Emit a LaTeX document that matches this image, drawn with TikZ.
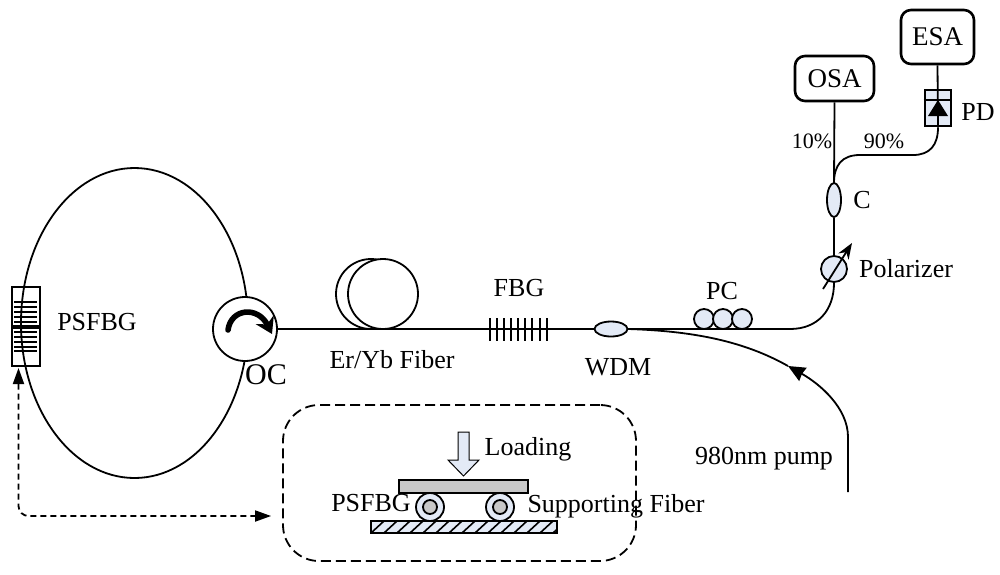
\documentclass[tikz,border=0pt]{standalone}
\usepackage{fontspec}
\setmainfont{Liberation Serif}
\definecolor{PaleBlue}{HTML}{E3EAF6}
\definecolor{PlateGray}{HTML}{C8C8C8}
\usetikzlibrary{positioning, arrows.meta, shapes.geometric, calc}
\tikzset{
  fiber/.style={line width=0.9pt},
  lbl/.style={font=\fontsize{13}{15}\selectfont, inner sep=0pt},
  smalllbl/.style={font=\fontsize{11}{13}\selectfont, inner sep=0pt},
  instr/.style={draw, line width=1.3pt, rounded corners=5pt, fill=white, font=\fontsize{13.5}{15}\selectfont},
  coupler/.style={draw, fiber, ellipse, fill=PaleBlue, inner sep=0pt},
  paddle/.style={draw, fiber, circle, fill=PaleBlue, inner sep=0pt, minimum size=10pt},
  coil/.style={draw, fiber, circle, fill=white, inner sep=0pt, minimum size=35pt},
  roller/.style={draw, fiber, circle, fill=PaleBlue, inner sep=0pt, minimum size=14pt},
  linktip/.style={{Stealth[length=8pt, width=5.5pt, inset=0pt]}-{Stealth[length=8pt, width=5.5pt, inset=0pt]}}
}
\begin{document}
\begin{tikzpicture}[x=0.5pt, y=-0.5pt, fiber]
  \useasboundingbox (0,0) rectangle (1000,574);
  % Ring
  \node[draw, fiber, ellipse, inner sep=0pt, minimum width=113.5pt, minimum height=155pt] (ring) at (134.5,323) {};
  \node[draw, fiber, circle, fill=white, inner sep=0pt, minimum size=32pt] (oc) at (245,329) {};
  \draw[line width=2.8pt, line cap=round, -{Stealth[length=8pt, width=10pt]}] (228,330) .. controls (231,308) and (258,306) .. (272,334);
  \node[lbl, font=\fontsize{15}{17}\selectfont] (oclabel) at (266,375) {OC};
  % Grating in the ring
  \node[draw, fiber, inner sep=0pt, minimum width=14pt, minimum height=39.5pt] (psfbg) at (26,326.5) {};
  \foreach \y in {302,307,312,317,322,332,337,342,347,351}
    \draw[line width=0.8pt] (14,\y) -- (37,\y);
  \draw[line width=2pt] (12,327) -- (39,327);
  \node[lbl] (psfbglabel) at (97,322) {PSFBG};
  % Gain fiber
  \node[coil] (coilback) at (371,294) {};
  \node[coil] (coilfront) at (383,294) {};
  \node[lbl] (gainlabel) at (392,360) {Er/Yb Fiber};
  % Main line
  \node[coupler, minimum width=16.5pt, minimum height=7.5pt] (wdm) at (611,329) {};
  \coordinate (bend) at (790,329);
  \draw (oc.east) -- (wdm.west);
  \draw (wdm.east) -- (bend);
  % FBG
  \foreach \x in {490,497,504,511,518,525,532,540,547}
    \draw[line width=0.8pt] (\x,318) -- (\x,341);
  \node[lbl] (fbglabel) at (519,288) {FBG};
  \node[lbl] (wdmlabel) at (618,367) {WDM};
  % PC
  \node[paddle] (pca) at (704,319) {};
  \node[paddle] (pcb) at (723,319) {};
  \node[paddle] (pcc) at (742,319) {};
  \node[lbl] (pclabel) at (722,291) {PC};
  % Pump
  \coordinate (pumpin) at (848,492);
  \coordinate (pumptip) at (788,366);
  \draw[-{Stealth[length=8.5pt, width=7.5pt, inset=0.5pt]}] (pumpin) -- (848,437) .. controls (848,408) and (820,384) .. (pumptip);
  \draw (pumptip) .. controls (742,340) and (690,331) .. (wdm.east);
  \node[lbl] (pumplabel) at (764,459) {980nm pump};
  % Output arm
  \node[draw, fiber, circle, fill=PaleBlue, inner sep=0pt, minimum size=13pt] (pol) at (834,269) {};
  \node[coupler, minimum width=7pt, minimum height=17pt] (c) at (834,200) {};
  \node[instr, minimum width=39.5pt, minimum height=22.5pt] (osa) at (834.5,78.5) {OSA};
  \node[instr, minimum width=36.5pt, minimum height=27pt] (esa) at (937.5,37) {ESA};
  \node[draw, line width=1.4pt, fill=PaleBlue, inner sep=0pt, minimum width=13pt, minimum height=18pt] (pd) at (938,108) {};
  \draw (bend) .. controls (818,329) and (834,310) .. (pol.south);
  \draw (pol.north) -- (c.south);
  \draw (c.north) -- (osa.south);
  \draw (esa.south) -- (pd.south);
  \draw (pd.west |- 0,100) -- (pd.east |- 0,100);
  \fill (928,116) -- (948,116) -- (938,100) -- cycle;
  \draw (834,183) .. controls (834,165) and (842,155) .. (860,155) -- (913,155) .. controls (930,155) and (938,145) .. (pd.south);
  \draw[-{Stealth[length=8pt, width=6pt]}] (823,289) -- (852,243);
  \node[lbl] (clabel) at (862,200) {C};
  \node[lbl] (pollabel) at (906,269) {Polarizer};
  \node[lbl] (pdlabel) at (978,112) {PD};
  \node[smalllbl] (tenlabel) at (812,141) {10\%};
  \node[smalllbl] (ninetylabel) at (884,141) {90\%};
  % Inset
  \node[draw, fiber, dashed, dash pattern=on 5pt off 2.5pt, rounded corners=18pt, inner sep=0pt, minimum width=176.5pt, minimum height=78pt] (inset) at (459.5,483) {};
  \coordinate (linkcorner) at (18.5,516);
  \draw[fiber, dash pattern=on 3pt off 2pt, linktip, rounded corners=5pt, shorten >=5.5pt] (18.5,368) -- (linkcorner) -- (inset.west |- linkcorner);
  \draw[line width=0.5pt, fill=PaleBlue] (458,432) -- (469,432) -- (469,460) -- (479,460) -- (463.5,476) -- (448,460) -- (458,460) -- cycle;
  \node[lbl] (loadlabel) at (528,449) {Loading};
  \node[draw, fiber, fill=PlateGray, inner sep=0pt, minimum width=64.5pt, minimum height=6.5pt] (plate) at (463.5,486.5) {};
  \foreach \x/\name in {430/rolla, 500/rollb} {
    \node[roller] (\name) at (\x,507) {};
    \draw[fiber, fill=PlateGray] (\name) circle (7);
  }
  \node[draw, fiber, fill=PaleBlue, inner sep=0pt, minimum width=93pt, minimum height=6pt] (stage) at (464,527) {};
  \begin{scope}
    \clip (stage.south west) rectangle (stage.north east);
    \foreach \x in {371,384,...,565}
      \draw[line width=0.8pt] (\x,533) -- (\x+13,521);
  \end{scope}
  \node[lbl] (fbgloadlabel) at (371,503) {PSFBG};
  \node[lbl] (supportlabel) at (616,506) {Supporting Fiber};
\end{tikzpicture}
\end{document}
